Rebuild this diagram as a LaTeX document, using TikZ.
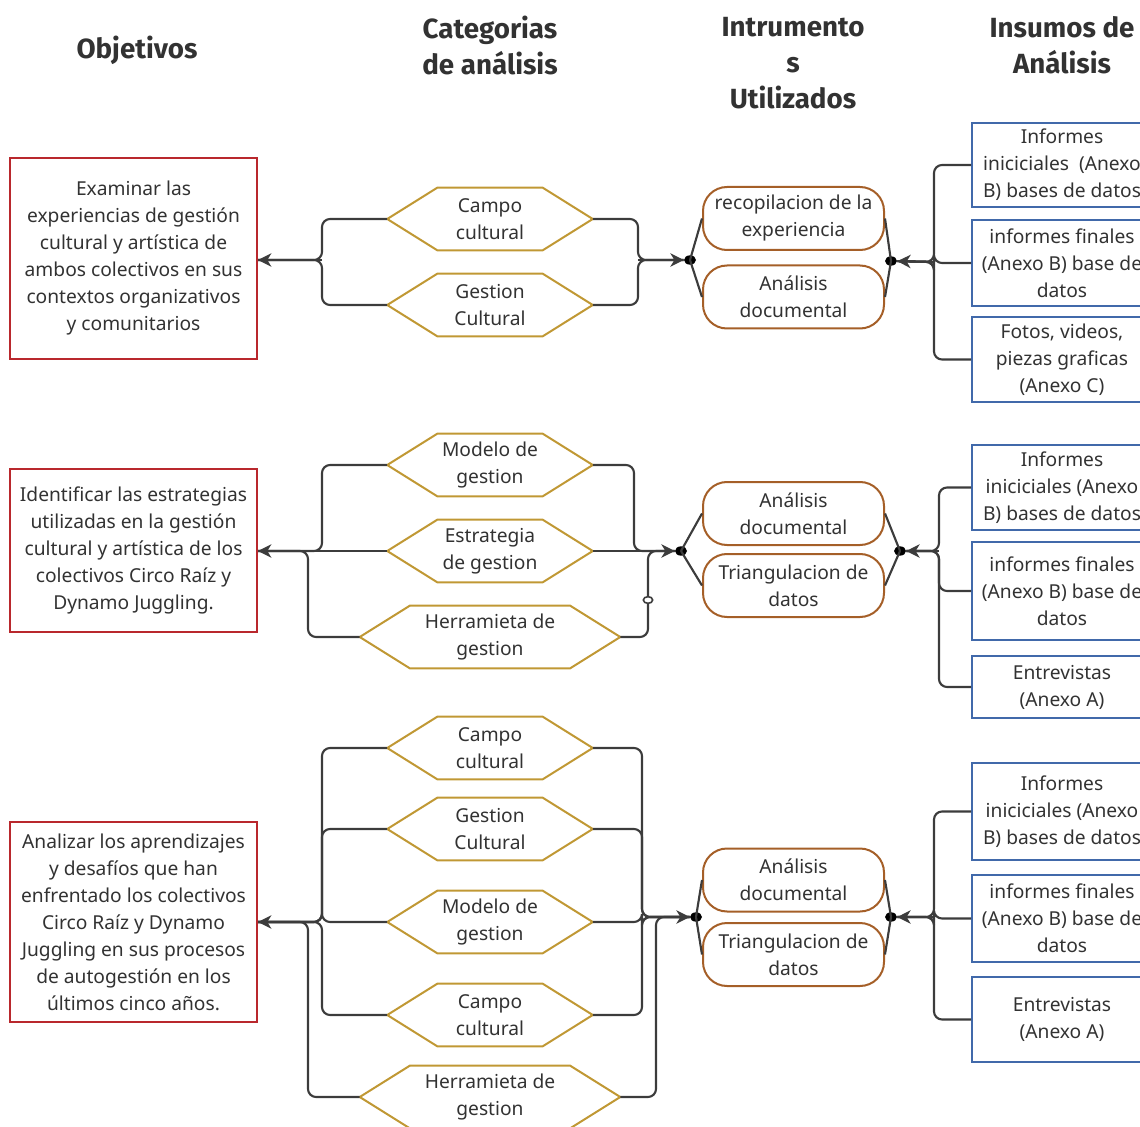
\documentclass[tikz,border=0pt]{standalone}
\usepackage{fontspec}
\setmainfont{Noto Sans}
\newfontfamily\headfamily{Fira Sans}
\usetikzlibrary{arrows.meta,shapes.geometric}

\definecolor{objred}{RGB}{185,40,45}
\definecolor{catgold}{RGB}{192,152,52}
\definecolor{instbrown}{RGB}{165,95,40}
\definecolor{insblue}{RGB}{65,105,170}
\definecolor{linkgray}{RGB}{60,60,60}
\definecolor{txtgray}{RGB}{50,50,50}

\newcommand{\bodyfont}{\fontsize{14.4}{20.25}\selectfont}
\newcommand{\headfont}{\headfamily\bfseries\fontsize{20.8}{27}\selectfont}
\newcommand{\catshape}[1]{\draw[catline] (#1.west) -- ([xshift=37.5pt]#1.north west) -- ([xshift=-37.5pt]#1.north east) -- (#1.east) -- ([xshift=-37.5pt]#1.south east) -- ([xshift=37.5pt]#1.south west) -- cycle;}

\tikzset{
  head/.style={font=\headfont, text=txtgray, align=center},
  objbox/.style={draw=objred, line width=1.5pt, minimum width=185.25pt, inner sep=0pt, align=center, font=\bodyfont, text=txtgray},
  catbox/.style={minimum width=153.75pt, minimum height=46.5pt, inner sep=0pt, align=center, font=\bodyfont, text=txtgray},
  catwide/.style={catbox, minimum width=195pt},
  catline/.style={draw=catgold, line width=1.5pt},
  instbox/.style={draw=instbrown, line width=1.5pt, rounded corners=18pt, minimum width=135.75pt, minimum height=47.25pt, inner sep=0pt, align=center, font=\bodyfont, text=txtgray},
  insbox/.style={draw=insblue, line width=1.5pt, minimum width=135pt, inner sep=0pt, align=center, font=\bodyfont, text=txtgray},
  joint/.style={ellipse, fill=black, minimum width=9pt, minimum height=7pt, inner sep=0pt},
  zeromark/.style={ellipse, draw=linkgray, line width=1.2pt, fill=white, minimum width=7pt, minimum height=5pt, inner sep=0pt},
  link/.style={draw=linkgray, line width=1.6pt, rounded corners=6pt},
  arr/.style={-{Stealth[length=10pt,width=10pt,inset=3pt]}}
}

\begin{document}
\begin{tikzpicture}[x=0.75pt, y=-0.75pt]
	\useasboundingbox (0,0) rectangle (1140,1127);
	\clip (0,0) rectangle (1140,1127);
%%%%%%%%%%% headers
	\node[head] (hobj) at (137,50) {Objetivos};
	\node[head] (hcat) at (490,45) {Categorias\\de análisis};
	\node[head] (hins) at (793,63.5) {Intrumento\\s\\Utilizados};
	\node[head] (hinp) at (1062,45) {Insumos de\\Análisis};
%%%%%%%%%%% objetivos
	\node[objbox, minimum height=150.75pt] (o1) at (133.5,258.5) {Examinar las\\experiencias de gestión\\cultural y artística de\\ambos colectivos en sus\\contextos organizativos\\y comunitarios};
	\node[objbox, minimum height=122.25pt] (o2) at (133.5,550.5) {Identificar las estrategias\\utilizadas en la gestión\\cultural y artística de los\\colectivos Circo Raíz y\\Dynamo Juggling.};
	\node[objbox, minimum height=150pt] (o3) at (133.5,922) {Analizar los aprendizajes\\y desafíos que han\\enfrentado los colectivos\\Circo Raíz y Dynamo\\Juggling en sus procesos\\de autogestión en los\\últimos cinco años.};
%%%%%%%%%%% categorias
	\node[catbox] (c1a) at (490,219) {Campo\\cultural};
	\node[catbox] (c1b) at (490,305) {Gestion\\Cultural};
	\node[catbox] (c2a) at (490,465) {Modelo de\\gestion};
	\node[catbox] (c2b) at (490,551) {Estrategia\\de gestion};
	\node[catwide] (c2c) at (490,637) {Herramieta de\\gestion};
	\node[catbox] (c3a) at (490,748) {Campo\\cultural};
	\node[catbox] (c3b) at (490,829) {Gestion\\Cultural};
	\node[catbox] (c3c) at (490,922) {Modelo de\\gestion};
	\node[catbox] (c3d) at (490,1015) {Campo\\cultural};
	\node[catwide] (c3e) at (490,1097) {Herramieta de\\gestion};
	\foreach \c in {c1a,c1b,c2a,c2b,c2c,c3a,c3b,c3c,c3d,c3e} {
		\catshape{\c}
	}
%%%%%%%%%%% instrumentos
	\node[instbox] (i1a) at (793.5,218.5) {recopilacion de la\\experiencia};
	\node[instbox] (i1b) at (793.5,297) {Análisis\\documental};
	\node[instbox] (i2a) at (793.5,513.5) {Análisis\\documental};
	\node[instbox] (i2b) at (793.5,585.5) {Triangulacion de\\datos};
	\node[instbox] (i3a) at (793.5,880) {Análisis\\documental};
	\node[instbox] (i3b) at (793.5,954.5) {Triangulacion de\\datos};
%%%%%%%%%%% insumos
	\node[insbox, minimum height=63pt] (n1a) at (1062,165) {Informes\\iniciciales~ (Anexo\\B) bases de datos};
	\node[insbox, minimum height=64.5pt] (n1b) at (1062,263) {informes finales\\(Anexo B) base de\\datos};
	\node[insbox, minimum height=63.75pt] (n1c) at (1062,359.5) {Fotos, videos,\\piezas graficas\\(Anexo C)};
	\node[insbox, minimum height=63.75pt] (n2a) at (1062,487.5) {Informes\\iniciciales (Anexo\\B) bases de datos};
	\node[insbox, minimum height=73.5pt] (n2b) at (1062,591) {informes finales\\(Anexo B) base de\\datos};
	\node[insbox, minimum height=46.5pt] (n2c) at (1062,687) {Entrevistas\\(Anexo A)};
	\node[insbox, minimum height=72.75pt] (n3a) at (1062,811.5) {Informes\\iniciciales (Anexo\\B) bases de datos};
	\node[insbox, minimum height=65.25pt] (n3b) at (1062,918.5) {informes finales\\(Anexo B) base de\\datos};
	\node[insbox, minimum height=63.75pt] (n3c) at (1062,1019.5) {Entrevistas\\(Anexo A)};
%%%%%%%%%%% junctions
	\coordinate (j1l) at (322,260);
	\coordinate (j1r) at (638,260);
	\coordinate (j1n) at (934,262);
	\coordinate (j2l) at (322,551);
	\coordinate (k2l) at (308,551);
	\coordinate (j2r) at (634,551);
	\coordinate (k2r) at (648,551);
	\coordinate (j2n) at (939,551);
	\coordinate (j3l) at (322,922);
	\coordinate (k3l) at (308,922);
	\coordinate (j3r) at (642,917);
	\coordinate (k3r) at (656,917);
	\coordinate (j3n) at (934,917);
	\node[joint] (d1l) at (690,260) {};
	\node[joint] (d1r) at (891,261) {};
	\node[joint] (d2l) at (681,551) {};
	\node[joint] (d2r) at (900,551) {};
	\node[joint] (d3l) at (696,917) {};
	\node[joint] (d3r) at (891,917) {};
%%%%%%%%%%% first row
	\draw[link] (c1a.west) -| (j1l) -- (o1.east |- j1l);
	\draw[link] (c1b.west) -| (j1l) -- (o1.east |- j1l);
	\draw[link, arr] (j1l) -- (o1.east |- j1l);
	\draw[link] (c1a.east) -| (j1r) -- (d1l);
	\draw[link] (c1b.east) -| (j1r) -- (d1l);
	\draw[link, arr] (j1r) -- (d1l);
	\draw[link] (d1l.center) -- (i1a.west);
	\draw[link] (d1l.center) -- (i1b.west);
	\draw[link] (d1r.center) -- (i1a.east);
	\draw[link] (d1r.center) -- (i1b.east);
	\draw[link] (n1a.west) -| (j1n) -- (d1r);
	\draw[link] (n1b.west) -| (j1n) -- (d1r);
	\draw[link] (n1c.west) -| (j1n) -- (d1r);
	\draw[link, arr] (j1n) -- (d1r);
%%%%%%%%%%% second row
	\draw[link] (c2a.west) -| (j2l) -- (o2.east |- j2l);
	\draw[link] (c2b.west) -- (o2.east |- c2b);
	\draw[link] (c2c.west) -| (k2l) -- (o2.east |- k2l);
	\draw[link, arr] (k2l) -- (o2.east |- k2l);
	\draw[link] (c2a.east) -| (j2r) -- (d2l);
	\draw[link] (c2b.east) -- (j2r) -- (d2l);
	\draw[link] (c2c.east) -| (k2r) -- (d2l);
	\draw[link, arr] (k2r) -- (d2l);
	\node[zeromark] (z2) at (648,600) {};
	\draw[link] (d2l.center) -- (i2a.west);
	\draw[link] (d2l.center) -- (i2b.west);
	\draw[link] (d2r.center) -- (i2a.east);
	\draw[link] (d2r.center) -- (i2b.east);
	\draw[link] (n2a.west) -| (j2n) -- (d2r);
	\draw[link] (n2b.west) -| (j2n) -- (d2r);
	\draw[link] (n2c.west) -| (j2n) -- (d2r);
	\draw[link, arr] (j2n) -- (d2r);
%%%%%%%%%%% third row
	\foreach \c in {c3a,c3b,c3c,c3d} {
		\draw[link] (\c.west) -| (j3l) -- (o3.east |- j3l);
		\draw[link] (\c.east) -| (j3r) -- (d3l);
	}
	\draw[link] (c3e.west) -| (k3l) -- (o3.east |- k3l);
	\draw[link] (c3e.east) -| (k3r) -- (d3l);
	\draw[link, arr] (k3l) -- (o3.east |- k3l);
	\draw[link, arr] (k3r) -- (d3l);
	\draw[link] (d3l.center) -- (i3a.west);
	\draw[link] (d3l.center) -- (i3b.west);
	\draw[link] (d3r.center) -- (i3a.east);
	\draw[link] (d3r.center) -- (i3b.east);
	\draw[link] (n3a.west) -| (j3n) -- (d3r);
	\draw[link] (n3b.west) -| (j3n) -- (d3r);
	\draw[link] (n3c.west) -| (j3n) -- (d3r);
	\draw[link, arr] (j3n) -- (d3r);
\end{tikzpicture}
\end{document}
